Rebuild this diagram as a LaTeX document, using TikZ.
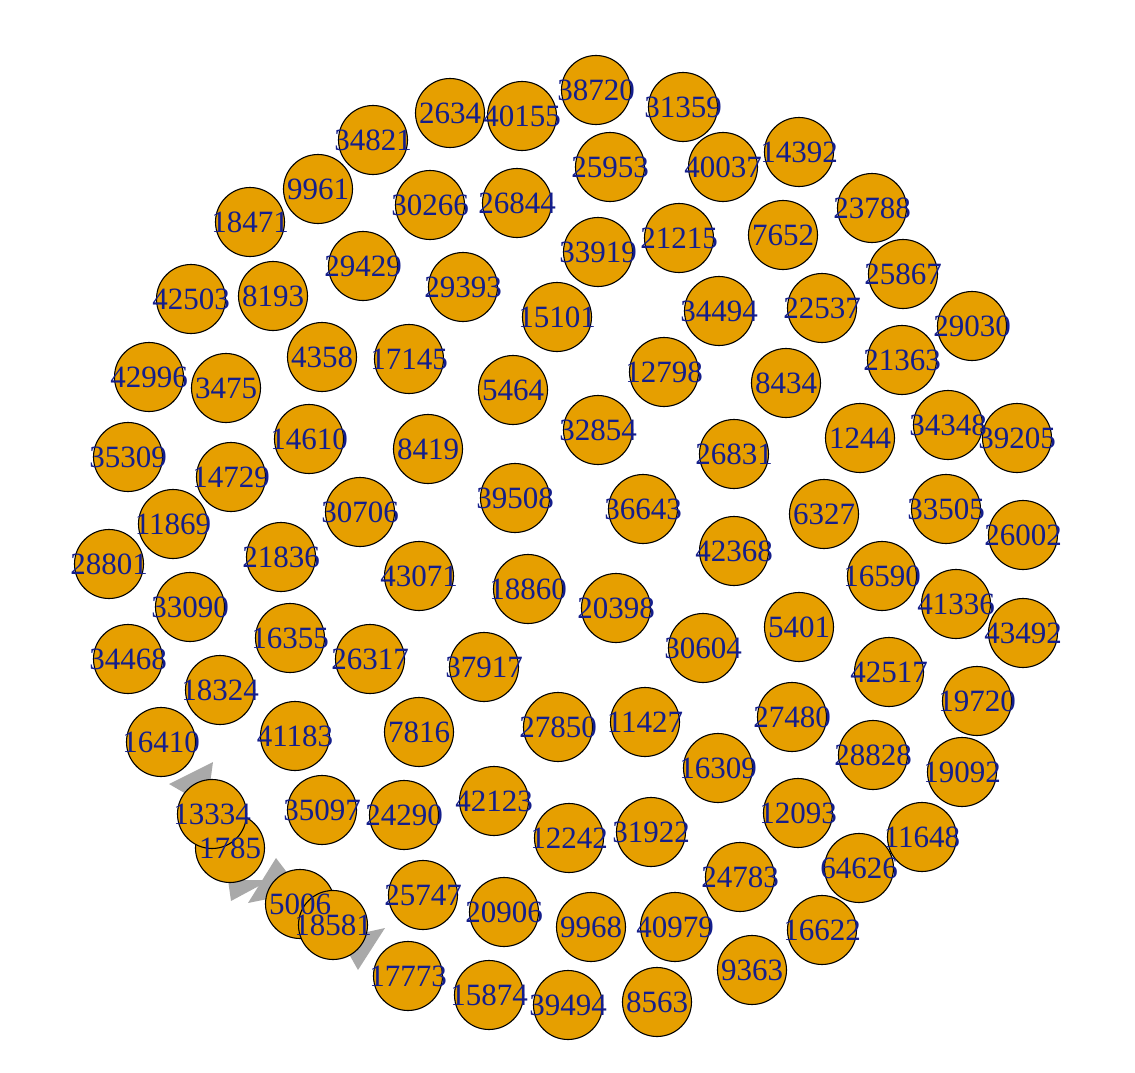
\documentclass[tikz,border=0pt]{standalone}
\usepackage{fontspec}
\setmainfont{Liberation Serif}
\usepackage{xcolor}
\usepackage{tikz}

\definecolor{vfill}{HTML}{E69F00}
\definecolor{vlab}{RGB}{20,30,140}
\definecolor{edgegray}{HTML}{A9A9A9}

\begin{document}
\begin{tikzpicture}[x=1pt, y=-1pt,
  vtx/.style={circle, draw=black, line width=1.1pt, fill=vfill,
              minimum size=69pt, inner sep=0pt},
  lab/.style={inner sep=0pt, text=vlab, font=\fontsize{31}{37}\selectfont},
  arw/.style={fill=edgegray}]
\useasboundingbox (0,0) rectangle (1135,1073);
% --- arrow heads of the short edges (drawn under the vertices) ---
\fill[arw] (169,784) -- (213,762) -- (207,806) -- cycle;
\fill[arw] (228,880) -- (231,901) -- (270,880) -- cycle;
\fill[arw] (276,858) -- (248,903) -- (302,892) -- cycle;
\fill[arw] (385,928) -- (358,970) -- (340,938) -- cycle;
% --- vertices ---
\foreach \v/\px/\py in {38720/596/90, 31359/683/107, 2634/450/113, 40155/522/116,
    34821/373/140, 14392/799/152, 25953/610/167, 40037/723/167, 9961/318/189,
    30266/430/205, 26844/517/203, 23788/872/208, 18471/250/222, 7652/783/235,
    21215/679/238, 33919/598/252, 29429/363/266, 25867/903/274, 29393/463/287,
    42503/191/299, 8193/273/296, 22537/822/308, 34494/719/311, 15101/557/317,
    29030/972/326, 4358/322/357, 17145/409/359, 21363/902/360, 12798/664/372,
    42996/149/377, 3475/226/388, 5464/513/390, 8434/786/383, 34348/948/425,
    32854/598/430, 1244/860/438, 39205/1017/438, 14610/309/439, 8419/428/449,
    26831/734/454, 35309/128/457, 14729/231/477, 39508/515/498, 36643/643/509,
    33505/946/509, 6327/824/514, 30706/360/512, 11869/173/524, 26002/1023/535,
    42368/734/551, 21836/281/557, 28801/109/564, 43071/419/576, 16590/882/576,
    18860/528/589, 41336/956/604, 33090/190/607, 20398/616/608, 5401/799/627,
    43492/1023/633, 16355/290/638, 30604/703/648, 26317/370/659, 34468/128/659,
    37917/484/667, 42517/889/672, 18324/220/690, 19720/977/701, 27480/792/717,
    11427/645/722, 27850/558/727, 7816/419/732, 41183/295/736, 16410/161/742,
    28828/873/755, 16309/718/768, 19092/962/772, 42123/494/801, 35097/322/810,
    24290/404/815, 12093/798/813, 31922/651/832, 12242/569/838, 11648/922/837,
    1785/230/848, 13334/212/814, 64626/859/868, 24783/740/877, 25747/423/895,
    5006/300/904, 18581/333/925, 20906/504/912, 9968/591/927, 40979/675/927,
    16622/822/930, 9363/752/970, 17773/408/976, 15874/489/995, 8563/657/1002,
    39494/568/1005}
  {
    \node[vtx] (v\v) at (\px,\py) {};
  }
% --- labels on top ---
\foreach \v in {38720, 31359, 2634, 40155, 34821, 14392, 25953, 40037, 9961,
    30266, 26844, 23788, 18471, 7652, 21215, 33919, 29429, 25867, 29393,
    42503, 8193, 22537, 34494, 15101, 29030, 4358, 17145, 21363, 12798,
    42996, 3475, 5464, 8434, 34348, 32854, 1244, 39205, 14610, 8419,
    26831, 35309, 14729, 39508, 36643, 33505, 6327, 30706, 11869, 26002,
    42368, 21836, 28801, 43071, 16590, 18860, 41336, 33090, 20398, 5401,
    43492, 16355, 30604, 26317, 34468, 37917, 42517, 18324, 19720, 27480,
    11427, 27850, 7816, 41183, 16410, 28828, 16309, 19092, 42123, 35097,
    24290, 12093, 31922, 12242, 11648, 1785, 13334, 64626, 24783, 25747,
    5006, 18581, 20906, 9968, 40979, 16622, 9363, 17773, 15874, 8563, 39494}
  {
    \node[lab] (t\v) at (v\v) {\v};
  }
\end{tikzpicture}
\end{document}
